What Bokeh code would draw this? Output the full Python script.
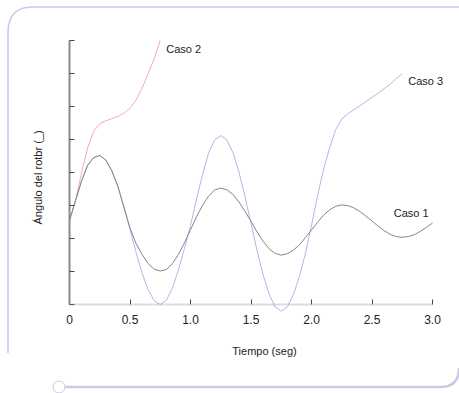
from urllib.parse import quote
from bokeh.plotting import figure
from bokeh.models import (Range1d, FixedTicker, BoxAnnotation, Label,
                          CustomLabelingPolicy)
from bokeh.embed import file_html
from bokeh.resources import INLINE

# ---------------- data ----------------
t_caso1 = [round(0.05 * i, 2) for i in range(61)]
caso1 = [2.55, 3.15, 3.75, 4.22, 4.45, 4.52, 4.38, 4.05, 3.58, 2.95,
         2.32, 1.85, 1.52, 1.24, 1.07, 1.02, 1.06, 1.24, 1.52, 1.87,
         2.27, 2.66, 3.01, 3.29, 3.47, 3.53, 3.48, 3.34, 3.11, 2.83,
         2.52, 2.20, 1.92, 1.69, 1.55, 1.50, 1.54, 1.65, 1.81, 2.03,
         2.26, 2.49, 2.71, 2.87, 2.98, 3.02, 3.00, 2.93, 2.82, 2.68,
         2.53, 2.38, 2.24, 2.13, 2.06, 2.04, 2.06, 2.12, 2.22, 2.34,
         2.47]

t_caso3 = [round(0.05 * i, 2) for i in range(56)]
caso3 = [2.55, 3.15, 3.75, 4.22, 4.45, 4.52, 4.38, 4.05, 3.58, 2.95,
         2.28, 1.58, 0.95, 0.45, 0.12, 0.00, 0.13, 0.49, 1.05, 1.70,
         2.40, 3.20, 3.95, 4.60, 4.99, 5.12, 4.99, 4.61, 4.02, 3.28,
         2.46, 1.64, 0.90, 0.31, -0.07, -0.20, -0.07, 0.30, 0.85, 1.55,
         2.40, 3.30, 4.10, 4.75, 5.30, 5.62, 5.78, 5.90, 6.02, 6.15,
         6.28, 6.40, 6.54, 6.68, 6.84, 7.00]

t_caso2 = [round(0.05 * i, 2) for i in range(16)]
caso2 = [2.55, 3.15, 4.00, 4.75, 5.25, 5.48, 5.57, 5.63, 5.70, 5.80,
         5.95, 6.20, 6.55, 7.00, 7.45, 8.00]

series_names = ["Caso 1", "Caso 2", "Caso 3"]
label_x = [2.68, 0.80, 2.80]
label_y = [2.76, 7.73, 6.76]

x_ticks = [0, 0.5, 1.0, 1.5, 2.0, 2.5, 3.0]
x_tick_labels = ["0", "0.5", "1.0", "1.5", "2.0", "2.5", "3.0"]
y_ticks = [0, 1, 2, 3, 4, 5, 6, 7, 8]

# ---------------- figure ----------------
FONT = "Liberation Sans"
W, H = 459, 393
PX_PER_UNIT = 121.0                    # frame keeps going to the right edge
x_end = x_ticks[-1] + 27 / PX_PER_UNIT
p = figure(width=W, height=H, output_backend="svg", toolbar_location=None,
           x_range=Range1d(0, x_end), y_range=Range1d(-0.3, 8.0),
           min_border_left=69, min_border_right=0, min_border_top=40,
           min_border_bottom=79)
p.outline_line_color = None
p.xgrid.visible = False
p.ygrid.visible = False
p.background_fill_color = None
p.border_fill_color = None

# decorative slide frame, drawn as the plot element's CSS background
LAV = "#cdc6e6"
deco = (
    f"<svg xmlns='http://www.w3.org/2000/svg' width='{W}' height='{H}'>"
    f"<path d='M8,353 L8,33 Q8,7 32,7 L{W},7' fill='none' stroke='{LAV}' stroke-width='1.6'/>"
    f"<path d='M62,387 L440,387 Q459,387 459,368' fill='none' stroke='{LAV}' stroke-width='2.4'/>"
    f"<circle cx='59' cy='387' r='6' fill='white' stroke='{LAV}' stroke-width='1'/>"
    "</svg>"
)
p.styles = {
    "background-color": "white",
    "background-image": f"url(\"data:image/svg+xml,{quote(deco)}\")",
    "background-repeat": "no-repeat",
    "background-position": "0 0",
}

AXC = "#8a8a8a"
for ax in (p.xaxis[0], p.yaxis[0]):
    ax.axis_line_color = AXC
    ax.axis_line_width = 2
    ax.major_tick_line_color = "#444444"
    ax.minor_tick_line_color = None
    ax.axis_label_text_font = FONT
    ax.axis_label_text_font_style = "normal"
    ax.axis_label_text_font_size = "11px"
    ax.axis_label_text_color = "#222222"
    ax.major_label_text_font = FONT
    ax.major_label_text_font_size = "12px"
    ax.major_label_text_color = "#222222"

# x axis: its line is drawn at y = 0 (inside the frame), ticks lifted to it
xa = p.xaxis[0]
xa.axis_line_color = None
xa.ticker = FixedTicker(ticks=x_ticks)
xa.major_label_overrides = {t: s for t, s in zip(x_ticks, x_tick_labels)}
xa.major_tick_in = 15
xa.major_tick_out = -10
xa.major_label_standoff = 0
xa.axis_label = "Tiempo (seg)"
xa.axis_label_standoff = 18
xa.axis_label_text_align = "center"
p.add_layout(BoxAnnotation(left=x_ticks[0], right=x_ticks[-1], bottom=0, top=0,
                           fill_alpha=0, line_color=AXC, line_width=2))

ya = p.yaxis[0]
ya.bounds = (0, 8)
ya.ticker = FixedTicker(ticks=y_ticks)
ya.major_tick_in = 5
ya.major_tick_out = 0
ya.major_label_policy = CustomLabelingPolicy(
    code="for (const i of indices) indices.unset(i); return indices")
ya.axis_label = "Ángulo del rotbr (_)"
ya.axis_label_standoff = 11

p.line(t_caso2, caso2, line_color="#f5abab", line_width=1)
p.line(t_caso3, caso3, line_color="#a8bbe4", line_width=1)
p.line(t_caso1, caso1, line_color="#858585", line_width=1)

for name, lx, ly in zip(series_names, label_x, label_y):
    p.add_layout(Label(x=lx, y=ly, text=name, text_font=FONT,
                       text_font_size="11px", text_color="#222222",
                       text_baseline="middle", text_align="left"))

open("out.html", "w").write(file_html(p, INLINE))
